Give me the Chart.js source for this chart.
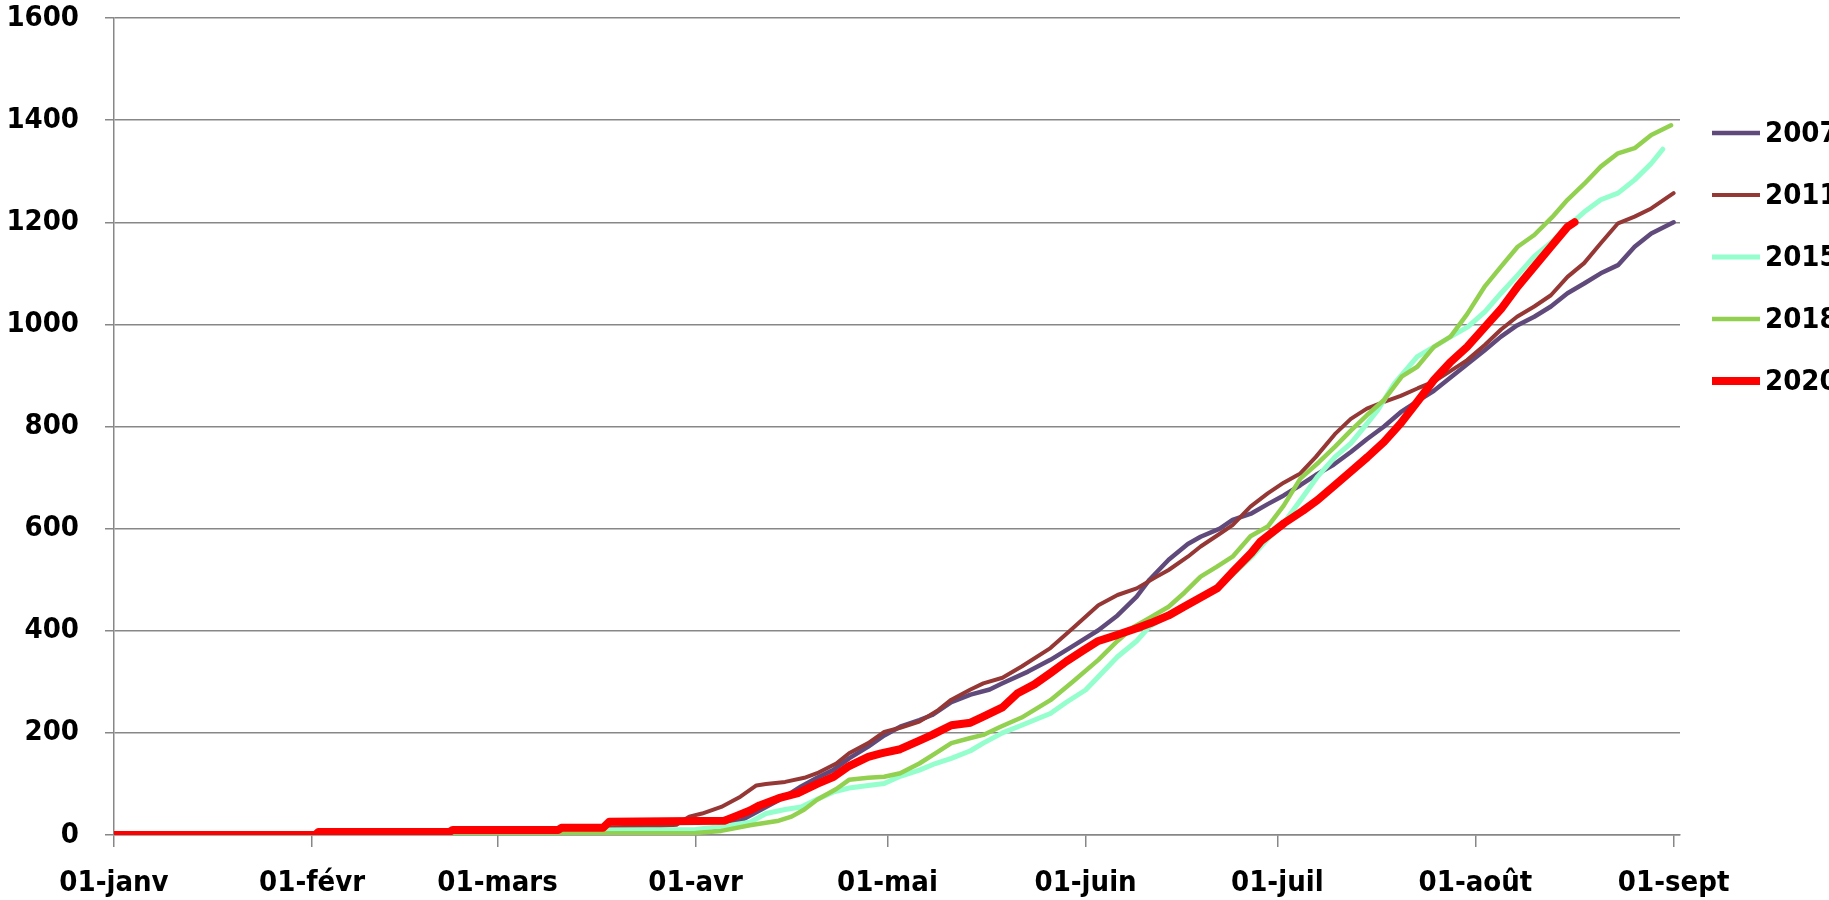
<!DOCTYPE html>
<html>
<head>
<meta charset="utf-8">
<script src="https://cdn.jsdelivr.net/npm/chart.js@4.4.1/dist/chart.umd.min.js"></script>
<style>
  html, body { margin: 0; padding: 0; background: #fff; overflow: hidden; }
  #wrap { width: 1829px; height: 900px; }
</style>
</head>
<body>
<div id="wrap"><canvas id="courbes"></canvas></div>
<script>
// x = day of year (0 = 01-janv, leap year), y = cumulated value
const monthDays = [0, 31, 60, 91, 121, 152, 182, 213, 244];
const monthLabels = ['01-janv', '01-févr', '01-mars', '01-avr', '01-mai', '01-juin', '01-juil', '01-août', '01-sept'];
const yTicks = [0, 200, 400, 600, 800, 1000, 1200, 1400, 1600];

const years = ['2007', '2011', '2015', '2018', '2020'];

const days2007 = [0, 60, 80, 92, 95, 98, 102, 105, 107.5, 110, 112.5, 115, 118, 120.5, 123, 126, 128, 131, 134, 137, 139, 143, 146.5, 150, 154, 157, 160, 162, 165, 168, 170, 173, 175, 178, 180.5, 183, 185.6, 188, 190.8, 193.5, 196, 198.7, 201.3, 204, 206.5, 209, 211.7, 214.5, 217, 219.5, 222.2, 224.8, 227.4, 230, 232.6, 235.3, 237.9, 240.5, 244];
const vals2007 = [0, 1, 3, 7, 18, 28, 55, 75, 95, 112, 127, 150, 173, 195, 212, 225, 235, 260, 275, 285, 297, 320, 343, 370, 401, 430, 467, 500, 539, 570, 584, 600, 617, 630, 648, 665, 685, 705, 725, 750, 775, 800, 828, 850, 870, 895, 922, 950, 976, 998, 1015, 1035, 1061, 1080, 1100, 1116, 1152, 1178, 1200];

const days2011 = [0, 40, 55, 65, 75, 85, 88, 90, 92, 95, 98, 100.5, 102, 105, 108, 110, 113, 115, 118, 120.5, 123, 126, 129, 131, 134, 136, 139, 142, 146.5, 150, 154, 157, 160, 163, 165, 168, 170, 173, 175, 177.8, 180.5, 183, 185.6, 188, 191, 193.5, 196, 198.7, 201.3, 204, 206.5, 209, 211.7, 214.5, 217, 219.5, 222.2, 224.8, 227.4, 230, 232.6, 235.3, 237.9, 240.5, 244];
const vals2011 = [0, 1, 3, 8, 14, 17, 20, 36, 42, 55, 75, 97, 100, 104, 112, 121, 140, 160, 180, 202, 210, 222, 245, 265, 285, 297, 308, 330, 366, 405, 450, 470, 483, 505, 519, 545, 565, 590, 607, 643, 669, 690, 708, 740, 785, 815, 835, 848, 860, 875, 888, 908, 930, 960, 990, 1015, 1035, 1057, 1093, 1120, 1159, 1198, 1211, 1227, 1257];

const days2015 = [0, 55, 70, 76, 91, 96, 99.5, 102, 105, 107.5, 110, 112.5, 115, 118, 120.5, 123, 126, 128.5, 131, 134, 136, 139, 142, 146.5, 149, 152, 154, 157, 160, 162, 165, 167.5, 170, 172.5, 175, 178, 180.5, 182.6, 185.6, 188.3, 191, 193.5, 196, 197.7, 200.3, 203.9, 206.5, 209, 211.8, 214.5, 217, 219.5, 222.2, 224.8, 227.4, 230, 232.6, 235.3, 237.9, 240.5, 242.3];
const vals2015 = [0, 1, 4, 10, 11, 18, 25, 42, 50, 55, 70, 84, 92, 97, 101, 115, 127, 140, 150, 165, 180, 200, 215, 238, 260, 284, 310, 349, 380, 408, 430, 447, 465, 486, 510, 545, 580, 604, 655, 702, 740, 767, 805, 832, 884, 937, 956, 975, 995, 1025, 1061, 1095, 1133, 1160, 1191, 1220, 1244, 1257, 1283, 1315, 1343];

const days2018 = [0, 55, 70, 91, 95, 99.5, 101, 104, 106, 108, 110, 113, 115, 118, 120.5, 123, 126, 128.5, 131, 134, 136, 138.7, 142, 146.5, 150, 154, 157, 159.6, 162, 165, 167.5, 170, 172.5, 175, 177.8, 180.5, 183, 185.6, 188.5, 191, 193.5, 196, 198.7, 201.5, 203.9, 206.5, 209.1, 211.7, 214.5, 217, 219.6, 222.2, 225, 227.4, 230, 232.6, 235.3, 237.9, 240.5, 243.6];
const vals2018 = [0, 1, 3, 4, 8, 19, 22, 28, 36, 50, 69, 90, 108, 112, 114, 121, 140, 160, 180, 190, 196, 212, 230, 264, 300, 343, 380, 408, 425, 447, 475, 506, 525, 545, 585, 604, 645, 698, 730, 760, 792, 822, 852, 898, 917, 956, 976, 1020, 1075, 1113, 1152, 1175, 1210, 1244, 1275, 1309, 1335, 1345, 1371, 1390];

const days2020 = [0, 31.5, 32, 52.5, 53, 69.5, 70, 76.5, 77.5, 95.5, 97.5, 99.5, 101, 104, 107, 110, 112.6, 115, 118, 120, 123, 126, 128, 131, 134, 136, 139, 141.3, 144, 146.5, 149, 151.7, 154, 157, 160, 162.2, 165, 167.4, 170, 172.6, 175, 177.9, 179.4, 183.1, 186, 188.3, 191, 193.5, 196.1, 198.7, 201.3, 204, 206.5, 209, 211.7, 215.4, 217, 219.6, 222.2, 224.8, 227.4, 228.5];
const vals2020 = [0, 0, 6, 6, 10, 10, 14, 14, 26, 28, 38, 48, 58, 72, 82, 100, 114, 135, 153, 160, 168, 185, 196, 215, 220, 232, 250, 277, 295, 317, 340, 362, 380, 392, 405, 415, 430, 447, 465, 483, 515, 552, 575, 611, 635, 656, 685, 712, 740, 770, 806, 850, 891, 925, 956, 1008, 1030, 1074, 1113, 1152, 1191, 1200];

const FONT = '"DejaVu Sans Condensed", "DejaVu Sans", sans-serif';
const GRID = '#878787';

function points(days, vals) {
    return days.map((d, i) => ({x: d, y: vals[i]}));
}

// legend drawn on the right, the text runs off the edge like in the original
const rightLegend = {
    id: 'rightLegend',
    afterDraw(chart) {
        const ctx = chart.ctx;
        const right = chart.chartArea.right;
        ctx.save();
        ctx.font = 'bold 29px ' + FONT;
        ctx.textBaseline = 'middle';
        ctx.textAlign = 'left';
        chart.data.datasets.forEach((ds, i) => {
            const y = 133 + i * 62;
            ctx.strokeStyle = ds.borderColor;
            ctx.lineWidth = ds.borderWidth;
            ctx.lineCap = 'butt';
            ctx.beginPath();
            ctx.moveTo(right + 32, y);
            ctx.lineTo(right + 80, y);
            ctx.stroke();
            ctx.fillStyle = '#000';
            ctx.fillText(ds.label, right + 85, y + 1);
        });
        ctx.restore();
    }
};

const ctx = document.getElementById('courbes');

new Chart(ctx, {
    type: 'line',
    data: {
        datasets: [
            { label: years[0], data: points(days2007, vals2007), borderColor: '#604a7b', borderWidth: 4.5, order: 4 },
            { label: years[1], data: points(days2011, vals2011), borderColor: '#953735', borderWidth: 4, order: 3 },
            { label: years[2], data: points(days2015, vals2015), borderColor: '#94ffcc', borderWidth: 5, order: 2 },
            { label: years[3], data: points(days2018, vals2018), borderColor: '#92d050', borderWidth: 4.5, order: 1 },
            { label: years[4], data: points(days2020, vals2020), borderColor: '#ff0000', borderWidth: 8, order: 0 }
        ]
    },
    options: {
        responsive: true,
        maintainAspectRatio: false,
        animation: false,
        layout: { autoPadding: false, padding: { top: 18, right: 149, bottom: 0, left: 0 } },
        elements: {
            point: { radius: 0 },
            line: { tension: 0, fill: false, borderJoinStyle: 'round', borderCapStyle: 'round' }
        },
        scales: {
            x: {
                type: 'linear',
                min: 0,
                max: 245,
                afterBuildTicks: (scale) => { scale.ticks = monthDays.map(v => ({value: v})); },
                afterFit: (scale) => { scale.height = 65; },
                ticks: {
                    autoSkip: false,
                    maxRotation: 0,
                    padding: 19,
                    color: '#000',
                    font: { family: FONT, size: 29, weight: 'bold' },
                    callback: (value) => monthLabels[monthDays.indexOf(value)]
                },
                grid: { drawOnChartArea: false, drawTicks: true, tickLength: 12, color: GRID, lineWidth: 1.5 },
                border: { display: true, color: GRID, width: 1.5 }
            },
            y: {
                min: 0,
                max: 1600,
                afterBuildTicks: (scale) => { scale.ticks = yTicks.map(v => ({value: v})); },
                afterFit: (scale) => {
                    scale.width = 114;
                    scale.paddingTop = 0;    // the label padding must not push the plot down
                    scale.paddingBottom = 0;
                },
                ticks: {
                    padding: 26,
                    color: '#000',
                    font: { family: FONT, size: 29, weight: 'bold' },
                    callback: (value) => String(value)
                },
                grid: { color: GRID, lineWidth: 1.5, tickLength: 9 },
                border: { display: true, color: GRID, width: 1.5 }
            }
        },
        plugins: {
            legend: { display: false },
            tooltip: { enabled: false }
        }
    },
    plugins: [rightLegend]
});
</script>
</body>
</html>
